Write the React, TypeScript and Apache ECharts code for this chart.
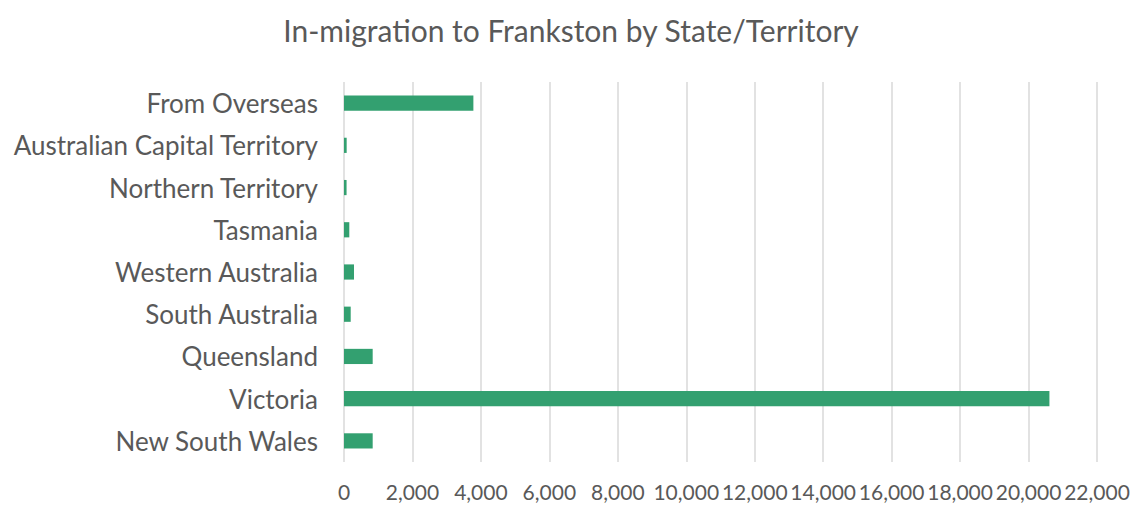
import React, { useEffect, useRef } from "react";
import * as echarts from "echarts";

const categories = [
  "New South Wales",
  "Victoria",
  "Queensland",
  "South Australia",
  "Western Australia",
  "Tasmania",
  "Northern Territory",
  "Australian Capital Territory",
  "From Overseas",
];
const values = [838, 20610, 838, 196, 292, 155, 75, 78, 3780];
const xTicks = { min: 0, max: 22000, interval: 2000 };
const titleText = "In-migration to Frankston by State/Territory";

const FONT = "Lato, 'Open Sans', sans-serif";
const TEXT = "#595959";

export default function App() {
  const ref = useRef<HTMLDivElement>(null);
  useEffect(() => {
    document.body.style.margin = "0";
    const chart = echarts.init(ref.current!, null, { renderer: "svg" });
    chart.setOption({
      animation: false,
      backgroundColor: "#ffffff",
      title: {
        text: titleText,
        left: "center",
        top: 10,
        textStyle: { fontFamily: FONT, fontSize: 30, fontWeight: "normal", color: TEXT },
      },
      grid: { left: 344, right: 45, top: 82, bottom: 47, containLabel: false },
      xAxis: {
        type: "value",
        min: xTicks.min,
        max: xTicks.max,
        interval: xTicks.interval,
        axisLine: { show: false },
        axisTick: { show: false },
        splitLine: { show: true, lineStyle: { color: "#d9d9d9", width: 1.5 } },
        axisLabel: {
          fontFamily: FONT,
          fontSize: 21,
          color: TEXT,
          margin: 19,
          hideOverlap: false,
          showMinLabel: true,
          showMaxLabel: true,
          formatter: (v: number) => v.toLocaleString("en-US"),
        },
      },
      yAxis: {
        type: "category",
        data: categories,
        axisLine: { show: false },
        axisTick: { show: false },
        axisLabel: { fontFamily: FONT, fontSize: 26, color: TEXT, margin: 26 },
      },
      series: [
        {
          type: "bar",
          data: values,
          barWidth: "36%",
          itemStyle: { color: "#33a070" },
        },
      ],
    });
    return () => chart.dispose();
  }, []);
  return <div ref={ref} style={{ width: 1142, height: 509 }} />;
}
